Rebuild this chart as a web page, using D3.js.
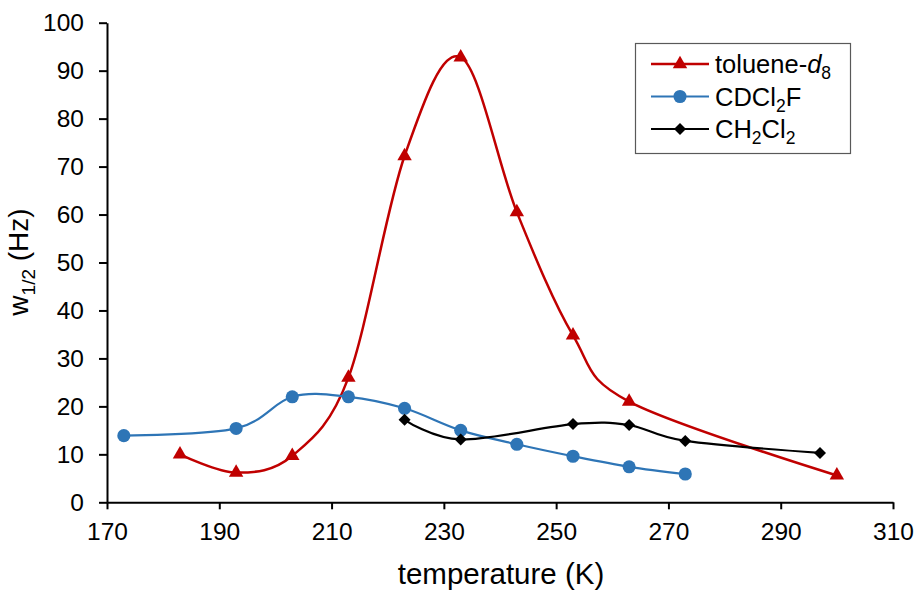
<!DOCTYPE html>
<html>
<head>
<meta charset="utf-8">
<script src="https://cdn.jsdelivr.net/npm/d3@7"></script>
<style>
  html, body { margin: 0; padding: 0; background: #fff; }
  text { font-family: "Liberation Sans", Arial, sans-serif; }
</style>
</head>
<body>
<svg id="chart" width="918" height="590"></svg>
<script>
// ---- data ----
const tolueneT = [183, 193, 203, 213, 223, 233, 243, 253, 263, 300];
const tolueneW = [10.0, 6.2, 9.7, 26.0, 72.2, 92.8, 60.5, 34.8, 21.0, 5.6];
const cdcl2fT = [173, 193, 203, 213, 223, 233, 243, 253, 263, 273];
const cdcl2fW = [13.9, 15.4, 22.0, 22.0, 19.6, 15.0, 12.1, 9.6, 7.4, 5.9];
const ch2cl2T = [223, 233, 253, 263, 273, 297];
const ch2cl2W = [17.2, 13.1, 16.3, 16.1, 12.8, 10.3];
const xTicks = [170, 190, 210, 230, 250, 270, 290, 310];
const yTicks = [0, 10, 20, 30, 40, 50, 60, 70, 80, 90, 100];

const svg = d3.select("#chart");
const x = d3.scaleLinear().domain([170, 310]).range([107, 893]);
const y = d3.scaleLinear().domain([0, 100]).range([502.3, 22.7]);

// axes
const xAxis = svg.append("g").attr("transform", `translate(0,${y(0)})`)
  .call(d3.axisBottom(x).tickValues(xTicks).tickSize(7).tickSizeOuter(0).tickPadding(10));
const yAxis = svg.append("g").attr("transform", `translate(${x(170)},0)`)
  .call(d3.axisLeft(y).tickValues(yTicks).tickSize(8).tickSizeOuter(0).tickPadding(15));
[xAxis, yAxis].forEach(g => {
  g.select(".domain").attr("stroke", "#000").attr("stroke-width", 2);
  g.selectAll(".tick line").attr("stroke", "#000").attr("stroke-width", 2);
  g.selectAll(".tick text").attr("fill", "#000")
    .style("font-family", '"Liberation Sans", Arial, sans-serif').style("font-size", "24.5px");
});
xAxis.selectAll(".tick text").attr("dy", "0.85em");

// axis titles
svg.append("text").attr("x", 501).attr("y", 584).attr("text-anchor", "middle")
  .style("font-size", "29.5px").text("temperature (K)");
const yt = svg.append("text").attr("transform", "translate(28,262) rotate(-90)")
  .attr("text-anchor", "middle").style("font-size", "28px");
yt.append("tspan").text("w");
yt.append("tspan").attr("dy", 7).style("font-size", "19px").text("1/2");
yt.append("tspan").attr("dy", -7).text(" (Hz)");

const line = d3.line().x(d => x(d[0])).y(d => y(d[1])).curve(d3.curveCatmullRom.alpha(0));

const series = [
  { name: "toluene", T: tolueneT, W: tolueneW, color: "#C00000", width: 2.5, sym: d3.symbolTriangle, size: 90, rot: 0 },
  { name: "cdcl2f", T: cdcl2fT, W: cdcl2fW, color: "#2E75B6", width: 2.2, sym: d3.symbolCircle, size: 135, rot: 0 },
  { name: "ch2cl2", T: ch2cl2T, W: ch2cl2W, color: "#000000", width: 2.2, sym: d3.symbolSquare, size: 72, rot: 45 }
];

const plot = svg.append("g");
series.forEach(s => {
  const pts = s.T.map((t, i) => [t, s.W[i]]);
  plot.append("path").datum(pts).attr("d", line).attr("fill", "none")
    .attr("stroke", s.color).attr("stroke-width", s.width);
  s.pts = pts;
});
series.forEach(s => {
  plot.selectAll(null).data(s.pts).enter().append("path")
    .attr("d", d3.symbol().type(s.sym).size(s.size))
    .attr("transform", d => `translate(${x(d[0])},${y(d[1])}) rotate(${s.rot})`)
    .attr("fill", s.color);
});

// legend
const lg = svg.append("g");
lg.append("rect").attr("x", 635.5).attr("y", 43.5).attr("width", 215).attr("height", 110)
  .attr("fill", "#fff").attr("stroke", "#595959").attr("stroke-width", 1.2);
const rows = [64, 96.5, 129];
series.forEach((s, i) => {
  lg.append("line").attr("x1", 651).attr("x2", 709).attr("y1", rows[i]).attr("y2", rows[i])
    .attr("stroke", s.color).attr("stroke-width", s.width);
  lg.append("path").attr("d", d3.symbol().type(s.sym).size(s.size))
    .attr("transform", `translate(680,${rows[i]}) rotate(${s.rot})`).attr("fill", s.color);
});
const lt = (i) => lg.append("text").attr("x", 715).attr("y", rows[i] + 9).style("font-size", "25.5px");
const t0 = lt(0);
t0.append("tspan").text("toluene-");
t0.append("tspan").style("font-style", "italic").text("d");
t0.append("tspan").attr("dy", 6).style("font-size", "17.5px").text("8");
const t1 = lt(1);
t1.append("tspan").text("CDCl");
t1.append("tspan").attr("dy", 6).style("font-size", "17.5px").text("2");
t1.append("tspan").attr("dy", -6).text("F");
const t2 = lt(2);
t2.append("tspan").text("CH");
t2.append("tspan").attr("dy", 6).style("font-size", "17.5px").text("2");
t2.append("tspan").attr("dy", -6).text("Cl");
t2.append("tspan").attr("dy", 6).style("font-size", "17.5px").text("2");
</script>
</body>
</html>
